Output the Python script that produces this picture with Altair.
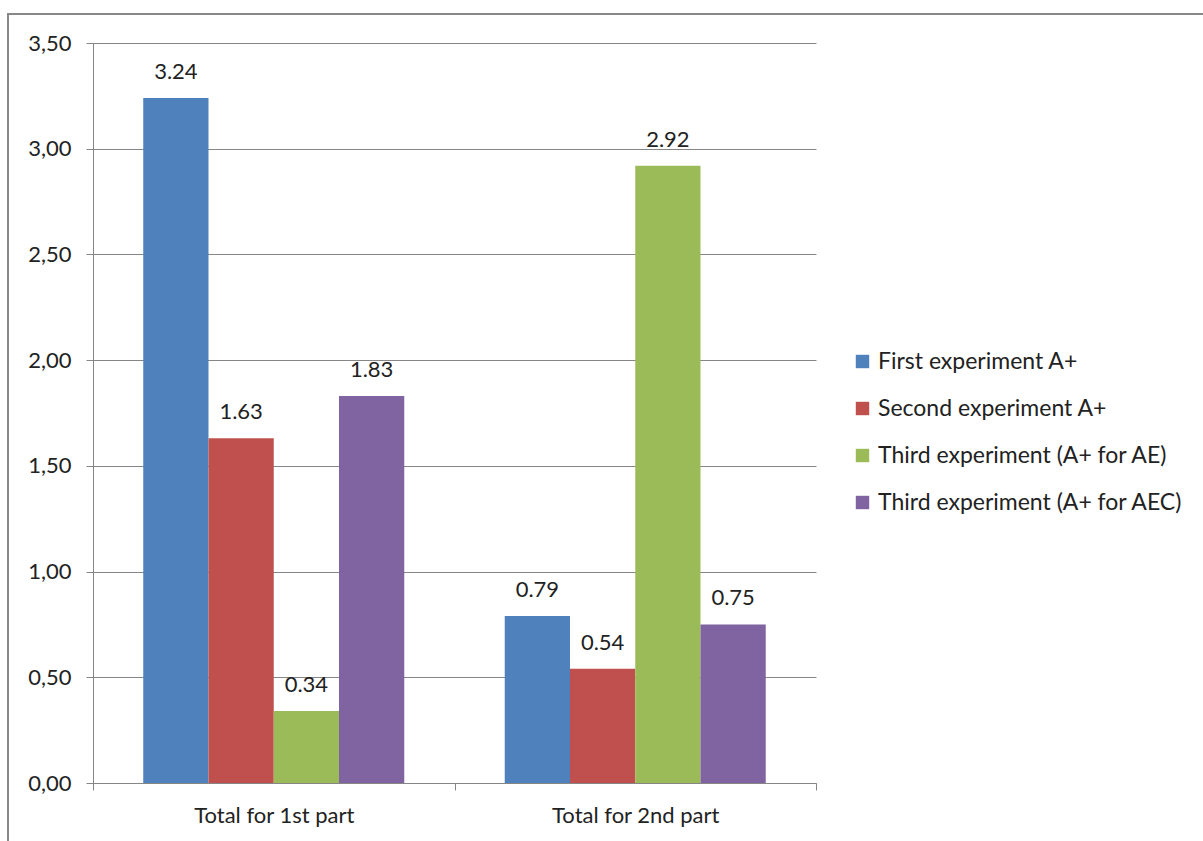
import altair as alt
import pandas as pd

categories = ["Total for 1st part", "Total for 2nd part"]
series = ["First experiment  A+", "Second experiment  A+", "Third experiment (A+ for AE)", "Third experiment (A+ for AEC)"]
values_part1 = [3.24, 1.63, 0.34, 1.83]
values_part2 = [0.79, 0.54, 2.92, 0.75]
colors = ["#4F81BD", "#C0504D", "#9BBB59", "#8064A2"]

rows = []
for s, v1, v2 in zip(series, values_part1, values_part2):
    rows.append({"cat": categories[0], "series": s, "value": v1})
    rows.append({"cat": categories[1], "series": s, "value": v2})
df = pd.DataFrame(rows)

FONT = "Lato"
GRAY = "#868686"
FS = 22

x = alt.X("cat:N", sort=categories, title=None,
          scale=alt.Scale(paddingInner=0, paddingOuter=0),
          axis=alt.Axis(labelAngle=0, labelFontSize=FS, labelFont=FONT, labelColor="#222222",
                        tickBand="extent", tickSize=7, tickColor=GRAY, domainColor=GRAY,
                        labelPadding=15, grid=False))
xo = alt.XOffset("series:N", sort=series, scale=alt.Scale(paddingInner=0, paddingOuter=0.77))
y = alt.Y("value:Q", title=None,
          scale=alt.Scale(domain=[0, 3.5], nice=False),
          axis=alt.Axis(values=[0, 0.5, 1, 1.5, 2, 2.5, 3, 3.5],
                        labelExpr="replace(format(datum.value, '.2f'), '.', ',')",
                        labelFontSize=FS, labelFont=FONT, labelColor="#222222",
                        tickSize=7, tickColor=GRAY, domainColor=GRAY, labelPadding=15,
                        gridColor=GRAY, gridWidth=1))

bars = alt.Chart(df).mark_bar().encode(
    x=x, xOffset=xo, y=y,
    color=alt.Color("series:N", sort=series,
                    scale=alt.Scale(domain=series, range=colors),
                    legend=alt.Legend(title=None, orient="none", legendX=758, legendY=307,
                                      symbolType="square", symbolSize=180, symbolStrokeWidth=0,
                                      labelFont=FONT, labelFontSize=23, labelColor="#222222",
                                      labelLimit=0, rowPadding=23, symbolOffset=0, labelOffset=4))
)

labels = alt.Chart(df).mark_text(dy=-26, fontSize=FS, font=FONT, color="#222222").encode(
    x=alt.X("cat:N", sort=categories), xOffset=xo, y=alt.Y("value:Q"),
    text=alt.Text("value:Q", format=".2f")
)

frame = alt.Chart(pd.DataFrame({"a": [0]})).mark_rect(
    fill=None, stroke="#888888", strokeWidth=2
).encode(x=alt.value(-85), x2=alt.value(1200), y=alt.value(-29), y2=alt.value(860))

chart = alt.layer(frame, bars, labels).properties(
    width=723, height=740,
    autosize=alt.AutoSizeParams(type="none"),
    padding={"left": 93, "top": 43, "right": 387, "bottom": 58},
).configure_view(stroke=None).configure_axisY(domain=True)

chart.save("out.html", embed_options={"renderer": "svg", "actions": False})
